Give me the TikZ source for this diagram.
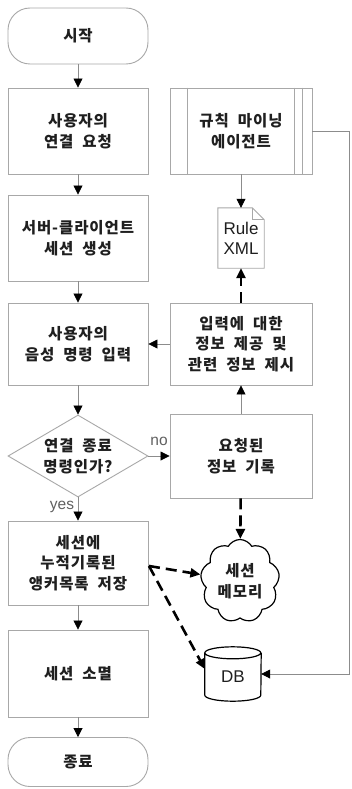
\documentclass[tikz,border=0pt]{standalone}
\usepackage{fontspec}
\setmainfont{Liberation Sans}
\newfontfamily\kr{Noto Sans CJK KR}[LetterSpace=6, WordSpace=2]
\usetikzlibrary{arrows.meta,shapes.geometric,shapes.symbols}
\definecolor{bord}{gray}{0.66}
\definecolor{conn}{gray}{0.55}
\definecolor{txt}{gray}{0.12}
\tikzset{
  ktext/.style={align=center, text=txt, inner sep=0pt, font=\kr\bfseries\fontsize{15.5}{20.5}\selectfont},
  box/.style={ktext, draw=bord, line width=0.9pt, minimum width=140pt},
  term/.style={box, rounded corners=22pt},
  flow/.style={draw=conn, line width=0.8pt, -{Triangle[length=9pt,width=9pt,color=black,fill=black]}},
  tdash/.style={draw=black, line width=2.6pt, dash pattern=on 11pt off 6pt, -{Triangle[length=10pt,width=9pt,color=black,fill=black]}},
  lbl/.style={text=gray!75!black, inner sep=0pt, font=\fontsize{15.5}{15}\selectfont},
  etext/.style={align=center, text=txt, inner sep=0pt, font=\fontsize{17}{20}\selectfont},
  blk/.style={draw=black, line width=1.2pt},
}
\begin{document}
\begin{tikzpicture}[x=1pt,y=-1pt]
\useasboundingbox[fill=white] (0,0) rectangle (352,789);

% left column
\node[term, minimum height=56pt] (start) at (78,36) {시작};
\node[box, minimum height=86pt] (b1) at (78,131) {사용자의\\연결 요청};
\node[box, minimum height=86pt] (b2) at (78,238) {서버-클라이언트\\세션 생성};
\node[box, minimum height=82pt] (b3) at (78,344) {사용자의\\음성 명령 입력};
\node[diamond, draw=bord, line width=0.9pt, minimum width=140pt, minimum height=82pt, inner sep=0pt] (dec) at (78,456) {};
\node[ktext] (dect) at (dec.center) {연결 종료\\명령인가?};
\node[box, minimum height=84pt] (b4) at (78,563) {세션에\\누적기록된\\앵커목록 저장};
\node[box, minimum height=87pt] (b5) at (78,673.5) {세션 소멸};
\node[term, minimum height=49pt] (end) at (78,762) {종료};

% right column
\node[box, minimum width=142pt, minimum height=86pt] (agent) at (241,131) {규칙 마이닝\\에이전트};
\draw[draw=bord, line width=0.9pt] ([xshift=18pt]agent.north west) -- ([xshift=18pt]agent.south west);
\draw[draw=bord, line width=0.9pt] ([xshift=-18pt]agent.north east) -- ([xshift=-18pt]agent.south east);
\draw[draw=bord, line width=0.9pt] ([xshift=-10pt]agent.north east) -- ([xshift=-10pt]agent.south east);

\node[etext, minimum width=46pt, minimum height=60pt] (rx) at (241,238) {Rule\\XML};
\draw[draw=bord, line width=0.9pt] (rx.north west) -- ([xshift=-12pt]rx.north east) -- ([yshift=-12pt]rx.north east) -- (rx.south east) -- (rx.south west) -- cycle;
\draw[draw=bord, line width=0.9pt] ([xshift=-12pt]rx.north east) -- ([xshift=-12pt,yshift=-12pt]rx.north east) -- ([yshift=-12pt]rx.north east);

\node[box, minimum width=142pt, minimum height=82pt] (info) at (241,344) {입력에 대한\\정보 제공 및\\관련 정보 제시};
\node[box, minimum width=142pt, minimum height=84pt] (rec) at (241,456) {요청된\\정보 기록};

\node[cloud, blk, cloud puffs=9, cloud puff arc=120, cloud ignores aspect, minimum width=79pt, minimum height=83pt, ktext] (mem) at (240,581) {세션\\메모리};

\node[etext, minimum width=56pt, minimum height=54pt] (db) at (233,674) {};
\draw[blk] ([yshift=-6pt]db.north west) arc[start angle=180,end angle=360,x radius=28pt,y radius=6pt]
  arc[start angle=0,end angle=180,x radius=28pt,y radius=6pt]
  -- ([yshift=6pt]db.south west) arc[start angle=180,end angle=360,x radius=28pt,y radius=6pt]
  -- ([yshift=-6pt]db.north east);
\node[etext] (dbt) at ([yshift=-3pt]db.center) {DB};

% labels
\node[lbl] (no) at (159,441) {no};
\node[lbl] (yes) at (62,507) {yes};

% flow connectors
\draw[flow] (start) -- (b1);
\draw[flow] (b1) -- (b2);
\draw[flow] (b2) -- (b3);
\draw[flow] (b3) -- (dec);
\draw[flow] (dec) -- (b4);
\draw[flow] (b4) -- (b5);
\draw[flow] (b5) -- (end);
\draw[flow] (agent) -- (rx);
\draw[flow] (info) -- (b3);
\draw[flow] (rec) -- (info);
\draw[flow] (dec) -- (rec);
\coordinate (c1) at (349,131);
\coordinate (c2) at (349,674);
\draw[flow] (agent.east) -- (c1) -- (c2) -- (db.east);

% thick dashed connectors
\coordinate (b4r) at (149,566);
\draw[tdash] (info) -- (rx);
\draw[tdash] (rec) -- (mem);
\draw[tdash] (b4r) -- (mem);
\draw[tdash] (b4r) -- ([yshift=5pt]db.west);
\end{tikzpicture}
\end{document}
